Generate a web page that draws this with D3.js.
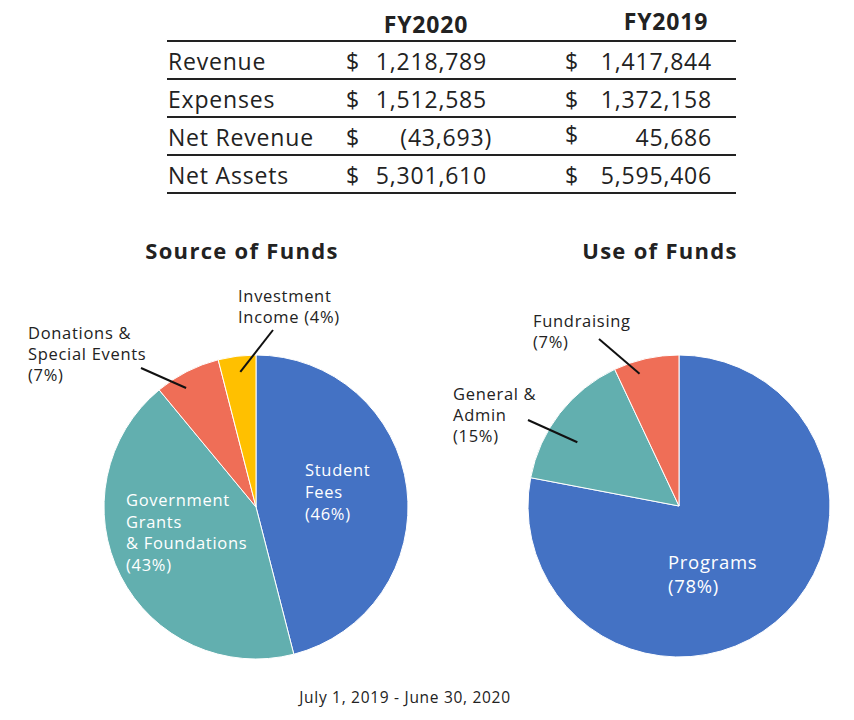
<!DOCTYPE html>
<html>
<head>
<meta charset="utf-8">
<script src="https://cdn.jsdelivr.net/npm/d3@7"></script>
<style>
  body { margin: 0; background: #fff; }
  text { font-family: "Open Sans", "Noto Sans", sans-serif; fill: #222; }
</style>
</head>
<body>
<div id="chart"></div>
<script>
// Table data
var years = ["FY2020", "FY2019"];
var rowLabels = ["Revenue", "Expenses", "Net Revenue", "Net Assets"];
var fy2020 = ["1,218,789", "1,512,585", "(43,693)", "5,301,610"];
var fy2019 = ["1,417,844", "1,372,158", "45,686", "5,595,406"];

// Pie data
var sourceLabels = ["Student Fees", "Government Grants & Foundations", "Donations & Special Events", "Investment Income"];
var sourceValues = [46, 43, 7, 4];
var useLabels = ["Programs", "General & Admin", "Fundraising"];
var useValues = [78, 15, 7];

var colors = ["#4472C4", "#62AFAF", "#EF6E57", "#FFC000"];

var svgWidth = 854;
var svgHeight = 720;

var svg = d3.select("#chart")
  .append("svg")
  .attr("width", svgWidth)
  .attr("height", svgHeight);

// ---- Table ----
var table = svg.append("g");
var rowY = d3.scaleBand()
  .domain(rowLabels)
  .range([41, 193]);

var tableLeft = 167, tableRight = 736;

// header
table.selectAll(".hdr")
  .data(years)
  .enter()
  .append("text")
  .attr("x", (d, i) => i === 0 ? 426 : 666)
  .attr("y", (d, i) => i === 0 ? 33 : 30)
  .attr("text-anchor", "middle")
  .attr("font-size", 23)
  .attr("font-weight", "bold")
  .attr("letter-spacing", 0.8)
  .text(d => d);

// rules
table.selectAll(".rule")
  .data([41].concat(rowLabels.map(d => rowY(d) + rowY.bandwidth())))
  .enter()
  .append("line")
  .attr("x1", tableLeft)
  .attr("x2", tableRight)
  .attr("y1", d => d)
  .attr("y2", d => d)
  .attr("stroke", "#222")
  .attr("stroke-width", 2.2);

var rows = table.selectAll(".row")
  .data(rowLabels)
  .enter()
  .append("g")
  .attr("transform", d => `translate(0, ${rowY(d) + 29})`);

var cellStyle = function(sel) {
  sel.attr("font-size", 23).attr("letter-spacing", 0.8);
};

rows.append("text")
  .attr("x", 168)
  .call(cellStyle)
  .text(d => d);

rows.append("text")
  .attr("x", 346)
  .call(cellStyle)
  .text("$");

rows.append("text")
  .attr("x", (d, i) => fy2020[i].indexOf(")") >= 0 ? 492 : 487)
  .attr("text-anchor", "end")
  .call(cellStyle)
  .text((d, i) => fy2020[i]);

rows.append("text")
  .attr("x", 565)
  .attr("dy", (d, i) => i === 2 ? -3 : 0)
  .call(cellStyle)
  .text("$");

rows.append("text")
  .attr("x", 712)
  .attr("text-anchor", "end")
  .call(cellStyle)
  .text((d, i) => fy2019[i]);

// ---- Pies ----
function drawPie(cx, cy, r, title, titleX, labels, values, inside, outside) {
  var g = svg.append("g").attr("transform", `translate(${cx}, ${cy})`);

  var pie = d3.pie().sort(null).value(d => d);
  var arcs = pie(values);
  var arc = d3.arc().innerRadius(0).outerRadius(r);

  g.selectAll("path")
    .data(arcs)
    .enter()
    .append("path")
    .attr("d", arc)
    .attr("fill", (d, i) => colors[i])
    .attr("stroke", "#fff")
    .attr("stroke-width", 1);

  svg.append("text")
    .attr("x", titleX)
    .attr("y", 259)
    .attr("text-anchor", "middle")
    .attr("font-size", 22)
    .attr("font-weight", "bold")
    .attr("letter-spacing", 1.3)
    .text(title);

  // labels inside slices
  inside.forEach(function(lab) {
    var t = g.append("text")
      .attr("font-size", lab.size)
      .attr("letter-spacing", 0.7)
      .style("fill", "#fff");
    lab.lines.forEach(function(line, j) {
      t.append("tspan")
        .attr("x", lab.x)
        .attr("y", lab.y + j * lab.lh)
        .text(line);
    });
  });

  // labels outside with leader lines
  outside.forEach(function(lab) {
    var a = arcs[lab.i];
    var mid = (a.startAngle + a.endAngle) / 2 + (lab.da || 0);
    var inner = d3.arc().innerRadius(lab.r).outerRadius(lab.r).centroid({startAngle: mid, endAngle: mid});
    g.append("line")
      .attr("x1", lab.lx)
      .attr("y1", lab.ly)
      .attr("x2", inner[0])
      .attr("y2", inner[1])
      .attr("stroke", "#111")
      .attr("stroke-width", 2);
    var t = g.append("text")
      .attr("font-size", 16.5)
      .attr("letter-spacing", 0.7);
    lab.lines.forEach(function(line, j) {
      t.append("tspan")
        .attr("x", lab.x)
        .attr("y", lab.y + j * 21)
        .text(line);
    });
  });
}

drawPie(256, 507, 152, "Source of Funds", 242, sourceLabels, sourceValues,
  [
    {lines: ["Student", "Fees", "(46%)"], x: 49, y: -31, lh: 22, size: 16.5},
    {lines: ["Government", "Grants", "& Foundations", "(43%)"], x: -130, y: -1, lh: 21.5, size: 16.5}
  ],
  [
    {i: 3, lines: ["Investment", "Income (4%)"], x: -18, y: -205, lx: 17, ly: -177, r: 136, da: 0.01},
    {i: 2, lines: ["Donations &", "Special Events", "(7%)"], x: -228, y: -168, lx: -115, ly: -139, r: 138, da: -0.06}
  ]);

drawPie(679, 506, 151, "Use of Funds", 660, useLabels, useValues,
  [
    {lines: ["Programs", "(78%)"], x: -11, y: 63, lh: 24, size: 18.5}
  ],
  [
    {i: 2, lines: ["Fundraising", "(7%)"], x: -146, y: -179, lx: -80, ly: -167, r: 138, da: -0.07},
    {i: 1, lines: ["General &", "Admin", "(15%)"], x: -226, y: -106, lx: -151, ly: -86, r: 120, da: -0.1}
  ]);

// footnote
svg.append("text")
  .attr("x", 405)
  .attr("y", 703)
  .attr("text-anchor", "middle")
  .attr("font-size", 15.5)
  .attr("letter-spacing", 0.7)
  .text("July 1, 2019 - June 30, 2020");
</script>
</body>
</html>
